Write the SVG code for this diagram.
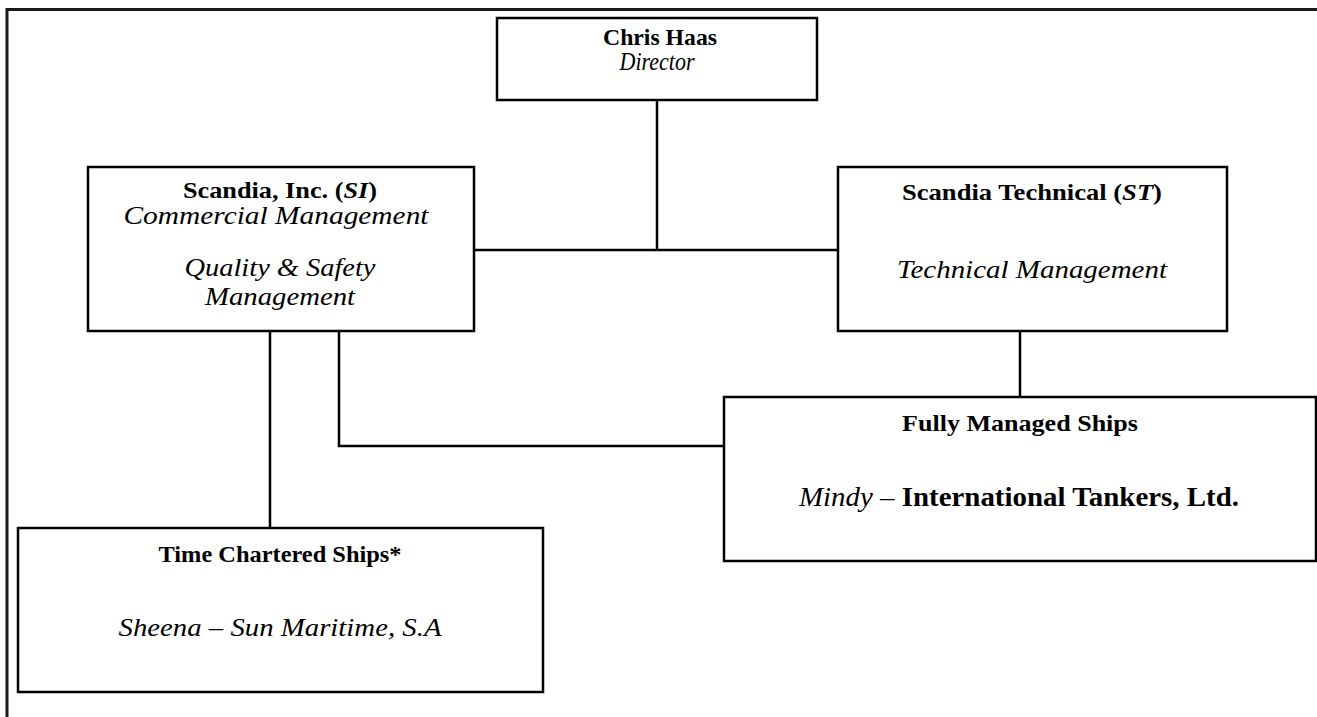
<svg xmlns="http://www.w3.org/2000/svg" width="1317" height="717" viewBox="0 0 1317 717">
<style>
.box{fill:#fff;stroke:#000;stroke-width:2.5}
.frame{fill:none;stroke:#1a1a1a;stroke-width:3}
.conn{fill:none;stroke:#000;stroke-width:2.5}
text{font-family:"Liberation Serif","Times New Roman",serif;fill:#000;text-anchor:middle}
.b{font-weight:bold;font-size:24px}
.i{font-style:italic;font-size:25px}
</style>
<rect width="1317" height="717" fill="#fff"/>
<g id="frame">
<path class="frame" d="M7,717 V9.5 H1317"/>
</g>
<g id="connectors">
<path class="conn" d="M657,100 V250"/>
<path class="conn" d="M474,250 H838"/>
<path class="conn" d="M1020,331 V397"/>
<path class="conn" d="M339,331 V446 H724"/>
<path class="conn" d="M270,331 V528"/>
</g>
<g id="chris">
<rect class="box" x="497" y="18" width="320" height="82"/>
<text class="b" x="660" y="45" font-size="22" textLength="114" lengthAdjust="spacingAndGlyphs">Chris Haas</text>
<text class="i" x="657" y="70" font-size="21" textLength="75" lengthAdjust="spacingAndGlyphs">Director</text>
</g>
<g id="scandia-inc">
<rect class="box" x="88" y="167" width="386" height="164"/>
<text class="b" x="280" y="198" textLength="194" lengthAdjust="spacingAndGlyphs">Scandia, Inc. (<tspan font-style="italic">SI</tspan>)</text>
<text class="i" x="276" y="224" textLength="305" lengthAdjust="spacingAndGlyphs">Commercial Management</text>
<text class="i" x="280" y="276" textLength="191" lengthAdjust="spacingAndGlyphs">Quality &amp; Safety</text>
<text class="i" x="280" y="305" textLength="150" lengthAdjust="spacingAndGlyphs">Management</text>
</g>
<g id="scandia-tech">
<rect class="box" x="838" y="167" width="389" height="164"/>
<text class="b" x="1032" y="200" textLength="260" lengthAdjust="spacingAndGlyphs">Scandia Technical (<tspan font-style="italic">ST</tspan>)</text>
<text class="i" x="1032" y="278" textLength="270" lengthAdjust="spacingAndGlyphs">Technical Management</text>
</g>
<g id="fully-managed">
<rect class="box" x="724" y="397" width="592" height="164"/>
<text class="b" x="1020" y="431" textLength="236" lengthAdjust="spacingAndGlyphs">Fully Managed Ships</text>
<text x="1019" y="506" font-size="28" textLength="440" lengthAdjust="spacingAndGlyphs"><tspan font-style="italic">Mindy</tspan> – <tspan font-weight="bold">International Tankers, Ltd.</tspan></text>
</g>
<g id="time-chartered">
<rect class="box" x="18" y="528" width="525" height="164"/>
<text class="b" x="280" y="562" textLength="243" lengthAdjust="spacingAndGlyphs">Time Chartered Ships*</text>
<text class="i" x="280" y="636" textLength="323" lengthAdjust="spacingAndGlyphs">Sheena – Sun Maritime, S.A</text>
</g>
</svg>
